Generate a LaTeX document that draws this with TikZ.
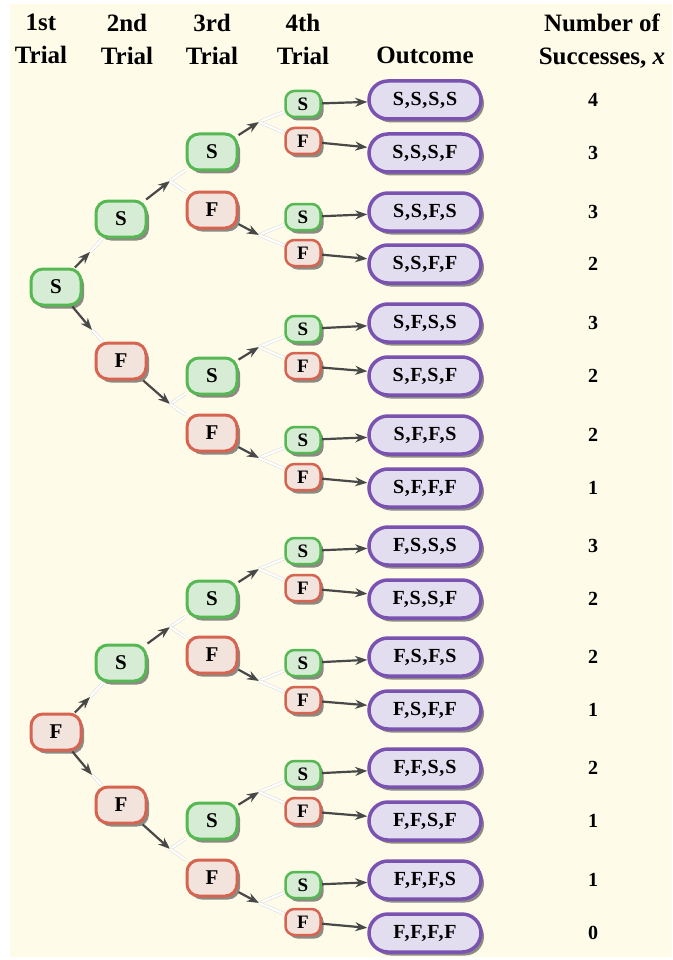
\documentclass[tikz,border=0pt]{standalone}
\usepackage{fontspec}
\setmainfont{Liberation Serif}
\newfontfamily\nodefont{Liberation Serif}[LetterSpace=4.0]
\usetikzlibrary{arrows.meta, positioning, calc, shadows}
\definecolor{bgcream}{RGB}{254,251,232}
\definecolor{sgreen}{RGB}{86,184,82}
\definecolor{sgreenfill}{RGB}{214,236,212}
\definecolor{fred}{RGB}{214,100,80}
\definecolor{fredfill}{RGB}{242,227,221}
\definecolor{opurple}{RGB}{122,82,176}
\definecolor{opurplefill}{RGB}{226,222,240}
\definecolor{arrowgray}{RGB}{72,72,72}

\pgfdeclarelayer{bg}
\pgfsetlayers{bg,main}

\tikzset{
  header/.style={anchor=north, inner sep=0pt, align=center,
    font=\bfseries\fontsize{25}{33}\selectfont},
  nodeshadow/.style={drop shadow={shadow xshift=3pt, shadow yshift=-3.5pt,
    fill=black!75, opacity=0.6}},
  trial/.style={rounded corners=12pt, minimum width=50pt, minimum height=36pt,
    inner sep=0pt, line width=3pt, nodeshadow,
    font=\nodefont\bfseries\fontsize{21}{21}\selectfont},
  lasttrial/.style={trial, rounded corners=9pt, minimum width=35pt,
    minimum height=26pt, line width=2.5pt,
    font=\nodefont\bfseries\fontsize{19}{19}\selectfont},
  nodeS/.style={draw=sgreen, fill=sgreenfill},
  nodeF/.style={draw=fred, fill=fredfill},
  outcome/.style={rounded corners=19pt, minimum width=112pt, minimum height=38pt,
    inner sep=0pt, line width=3.5pt, draw=opurple, fill=opurplefill, nodeshadow,
    font=\nodefont\bfseries\fontsize{20}{20}\selectfont},
  count/.style={font=\nodefont\bfseries\fontsize{20}{20}\selectfont},
  arrowline/.style={-{Stealth[length=12pt,width=9pt]}, line width=2.2pt, draw=arrowgray},
  paleline/.style={draw=black!15, double=white, double distance=2.2pt, line width=0.5pt},
}

\begin{document}
\begin{tikzpicture}[x=1pt,y=-1pt]
\useasboundingbox (0,0) rectangle (672,960);
\begin{pgfonlayer}{bg}
\fill[bgcream] (10,4) rectangle (672,957);
\end{pgfonlayer}

% Column headers
\node[header] (h1) at (41,14) {1st\\Trial};
\node[header] (h2) at (127,14) {2nd\\Trial};
\node[header] (h3) at (212,14) {3rd\\Trial};
\node[header] (h4) at (303,14) {4th\\Trial};
\node[header, anchor=base] (h5) at (425,64) {Outcome};
\node[header] (h6) at (602,14) {Number of\\Successes, \textit{x}};

% 1st trial
\node[trial, nodeS] (n1-1) at (56,287) {S};
\node[trial, nodeF] (n1-2) at (56,732) {F};

% 2nd trial
\foreach \i/\y/\t in {1/219/S, 2/361/F, 3/663/S, 4/805/F}
  \node[trial, node\t] (n2-\i) at (121,\y) {\t};

% 3rd trial
\foreach \i/\y/\t in {1/152/S, 2/210/F, 3/376/S, 4/433/F,
                      5/599/S, 6/655/F, 7/821/S, 8/878/F}
  \node[trial, node\t] (n3-\i) at (212,\y) {\t};

% 4th trial, outcomes and counts
\foreach \i/\y/\oy/\t/\o/\x in {
    1/104/100/S/{S,S,S,S}/4,   2/141/153/F/{S,S,S,F}/3,
    3/217/212/S/{S,S,F,S}/3,   4/253/264/F/{S,S,F,F}/2,
    5/329/323/S/{S,F,S,S}/3,   6/366/376/F/{S,F,S,F}/2,
    7/440/435/S/{S,F,F,S}/2,   8/477/488/F/{S,F,F,F}/1,
    9/551/546/S/{F,S,S,S}/3,  10/588/599/F/{F,S,S,F}/2,
   11/663/657/S/{F,S,F,S}/2,  12/700/710/F/{F,S,F,F}/1,
   13/774/768/S/{F,F,S,S}/2,  14/811/821/F/{F,F,S,F}/1,
   15/885/880/S/{F,F,F,S}/1,  16/922/933/F/{F,F,F,F}/0} {
  \node[lasttrial, node\t] (n4-\i) at (303,\y) {\t};
  \node[outcome] (o\i) at (425,\oy) {\o};
  \node[count] (x\i) at (593,\oy) {\x};
}

% Branch points
\coordinate (k1-1) at (90,252);
\coordinate (k1-2) at (92,330);
\coordinate (k1-3) at (90,697);
\coordinate (k1-4) at (92,775);
\foreach \i/\y in {1/181, 2/404, 3/627, 4/849}
  \coordinate (k2-\i) at (170,\y);
\foreach \i/\y in {1/122, 2/235, 3/347, 4/458, 5/569, 6/681, 7/792, 8/903}
  \coordinate (k3-\i) at (259,\y);

% Connectors
\begin{pgfonlayer}{bg}
\draw[arrowline] (n1-1) -- (k1-1);
\draw[arrowline] (n1-1) -- (k1-2);
\draw[arrowline] (n1-2) -- (k1-3);
\draw[arrowline] (n1-2) -- (k1-4);
\foreach \i in {1,...,4}
  \draw[paleline] (k1-\i) -- (n2-\i);
\foreach \i [evaluate=\i as \a using int(2*\i-1), evaluate=\i as \b using int(2*\i)] in {1,...,4} {
  \draw[arrowline] (n2-\i) -- (k2-\i);
  \draw[paleline] (k2-\i) -- (n3-\a);
  \draw[paleline] (k2-\i) -- (n3-\b);
}
\foreach \i [evaluate=\i as \a using int(2*\i-1), evaluate=\i as \b using int(2*\i)] in {1,...,8} {
  \draw[arrowline] (n3-\i) -- (k3-\i);
  \draw[paleline] (k3-\i) -- (n4-\a);
  \draw[paleline] (k3-\i) -- (n4-\b);
}
\foreach \i in {1,...,16}
  \draw[arrowline] (n4-\i) -- (o\i);
\end{pgfonlayer}
\end{tikzpicture}
\end{document}
